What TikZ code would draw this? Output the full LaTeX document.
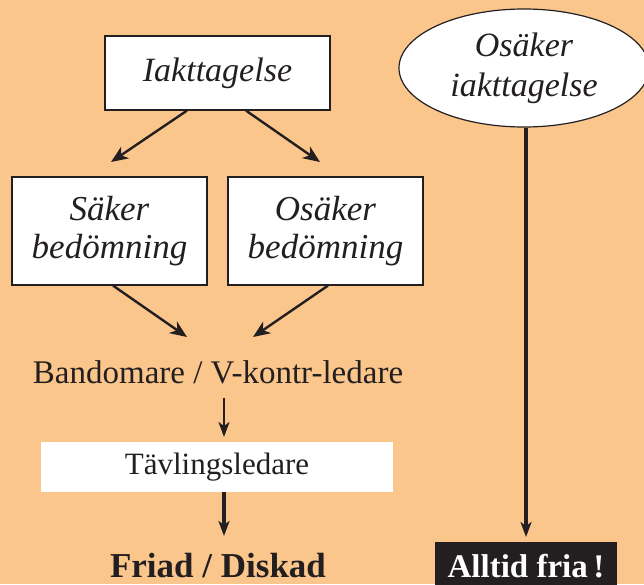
\documentclass[tikz,border=0pt]{standalone}
\usepackage{fontspec}
\setmainfont{Liberation Serif}
\usetikzlibrary{arrows.meta,shapes.geometric,calc}
\definecolor{bg}{RGB}{251,198,140}
\definecolor{ink}{RGB}{35,31,32}
\tikzset{
  box/.style={draw=ink, line width=1.2pt, fill=white, inner sep=0pt, align=center,
    font=\fontsize{35}{38}\selectfont\itshape, text=ink},
  arr/.style={draw=ink, line width=2.4pt, -{Stealth[length=17pt,width=14pt,inset=5pt]}},
  thinarr/.style={draw=ink, line width=1.8pt, -{Stealth[length=15pt,width=11pt,inset=4pt]}},
  thickarr/.style={draw=ink, line width=3.6pt, -{Stealth[length=15pt,width=11pt,inset=4pt]}},
  plain/.style={inner sep=0pt, text=ink, font=\fontsize{33}{36}\selectfont},
}
\begin{document}
\begin{tikzpicture}[x=1pt,y=-1pt]
\fill[bg] (0,0) rectangle (644,584);
\useasboundingbox (0,0) rectangle (644,584);

\node[box, minimum width=225pt, minimum height=74pt, font=\fontsize{34}{38}\selectfont\itshape] (iakt) at (217.5,73) {Iakttagelse};
\node[box, minimum width=195pt, minimum height=108pt] (saker) at (109.5,231) {Säker\\bedömning};
\node[box, minimum width=195pt, minimum height=108pt] (osaker) at (325.5,231) {Osäker\\bedömning};
\node[box, ellipse, minimum width=250pt, minimum height=118pt, font=\fontsize{34}{40}\selectfont\itshape] (ell) at (524,68) {Osäker\\iakttagelse};

\node[plain, anchor=base] (band) at (218,383) {Bandomare / V-kontr-ledare};
\node[plain, fill=white, minimum width=352pt, minimum height=50pt, font=\fontsize{31}{36}\selectfont] (tav) at (217,467) {Tävlingsledare};
\node[plain, anchor=base, font=\fontsize{35}{38}\selectfont\bfseries] (friad) at (218,577) {Friad / Diskad};
\node[plain, fill=ink, text=white, anchor=north, minimum width=182pt, minimum height=48pt, font=\fontsize{33}{38}\selectfont\bfseries] (alltid) at (526,542) {Alltid fria\,!};

\coordinate (t1) at (111,162);
\coordinate (t2) at (320,162);
\coordinate (t3) at (187,337);
\coordinate (t4) at (253,337);
\coordinate (t5) at (224,437);
\coordinate (t6) at (224,536);
\coordinate (t7) at (526,537);

\draw[arr] ([xshift=-30.5pt]iakt.south) -- (t1);
\draw[arr] ([xshift=28.5pt]iakt.south) -- (t2);
\draw[arr] ([xshift=3.5pt]saker.south) -- (t3);
\draw[arr] ([xshift=2.5pt]osaker.south) -- (t4);
\draw[thinarr] ([xshift=6pt,yshift=-14pt]band.south) -- (t5);
\draw[thickarr] ([xshift=7pt]tav.south) -- (t6);
\draw[thickarr] ([xshift=2pt]ell.south) -- (t7);
\end{tikzpicture}
\end{document}
